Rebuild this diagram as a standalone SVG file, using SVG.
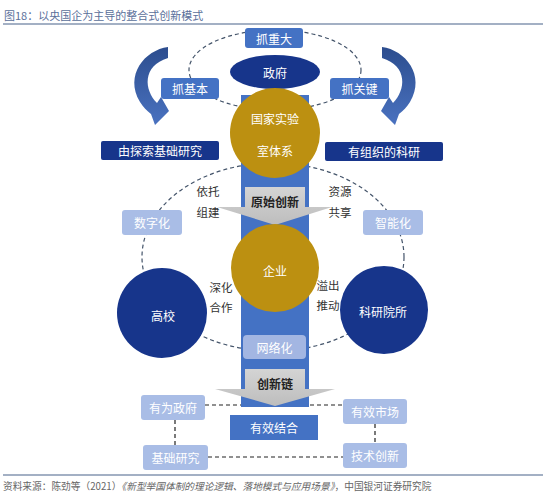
<svg xmlns="http://www.w3.org/2000/svg" width="546" height="500" viewBox="0 0 546 500">
<defs>
<linearGradient id="arrowGrad" x1="0" y1="0" x2="0" y2="1">
<stop offset="0" stop-color="#2c4d8e"/>
<stop offset="1" stop-color="#4a72c0"/>
</linearGradient>
<linearGradient id="grayGrad" x1="0" y1="0" x2="0" y2="1">
<stop offset="0" stop-color="#d4d4d4"/>
<stop offset="1" stop-color="#bdbdbd"/>
</linearGradient>
<style>
text{font-family:"Noto Sans CJK SC","Liberation Sans",sans-serif;text-anchor:middle;dominant-baseline:central}
.w{fill:#ffffff;font-size:12px}
.d{fill:#333333;font-size:11.5px}
.b{fill:#222222;font-size:12px;font-weight:bold}
.mid{fill:#4472c4}
.navy{fill:#17358b}
.gold{fill:#bc9011}
.light{fill:#a9bde6}
.dash{fill:none;stroke:#44546a;stroke-width:1.2;stroke-dasharray:4 3}
.dashk{fill:none;stroke:#222222;stroke-width:1.2;stroke-dasharray:4 3}
</style>
</defs>
<rect width="546" height="500" fill="#ffffff"/>
<text x="4" y="15" style="text-anchor:start;font-size:11px;fill:#5a6f9a">图18：以央国企为主导的整合式创新模式</text>
<line x1="3" y1="24" x2="543" y2="24" stroke="#8496b0" stroke-width="1.5"/>

<g id="connectors">
<ellipse class="dash" cx="275" cy="70" rx="86" ry="40"/>
<ellipse class="dash" cx="273" cy="257" rx="131" ry="94"/>
<line class="dashk" x1="205" y1="405" x2="343" y2="405"/>
<line class="dashk" x1="175" y1="420" x2="175" y2="445"/>
<line class="dashk" x1="208" y1="457" x2="343" y2="457"/>
<line class="dashk" x1="375" y1="424" x2="375" y2="443"/>
</g>

<g id="column"><rect class="mid" x="241" y="95" width="68" height="312"/></g>

<g id="arrow-left"><path fill="url(#arrowGrad)" d="M168,47 C145,50 124,75 140,102 C143,107 147,111 151,114 L155,125 L169,111 L161,97 L157,103 C144,90 142,66 168,58 Z"/></g>
<g id="arrow-right" transform="translate(550,0) scale(-1,1)"><path fill="url(#arrowGrad)" d="M168,47 C145,50 124,75 140,102 C143,107 147,111 151,114 L155,125 L169,111 L161,97 L157,103 C144,90 142,66 168,58 Z"/></g>

<g id="n-zhongda"><rect class="mid" x="245" y="28" width="58" height="20" rx="3"/><text class="w" x="274" y="38">抓重大</text></g>
<g id="n-zhengfu"><ellipse class="navy" cx="275" cy="72" rx="45" ry="17"/><text class="w" x="275" y="72">政府</text></g>
<g id="n-jiben"><rect class="mid" x="161" y="78" width="58" height="21" rx="3"/><text class="w" x="190" y="88.5">抓基本</text></g>
<g id="n-guanjian"><rect class="mid" x="330" y="78" width="59" height="21" rx="3"/><text class="w" x="359.5" y="88.5">抓关键</text></g>

<g id="n-tansuo"><rect class="navy" x="101" y="141" width="118" height="19" rx="2"/><text class="w" x="160" y="150.5">由探索基础研究</text></g>
<g id="n-zuzhi"><rect class="navy" x="325" y="142" width="118" height="19" rx="2"/><text class="w" x="384" y="151.5">有组织的科研</text></g>

<g id="n-shiyanshi"><circle class="gold" cx="275" cy="133" r="45"/><text class="w" x="275" y="118">国家实验</text><text class="w" x="275" y="150">室体系</text></g>

<g id="n-yuanshi"><path fill="url(#grayGrad)" d="M245,187 H305 V207 H332 L275,225 L217,207 H245 Z"/><text class="b" x="275" y="201">原始创新</text></g>

<text class="d" x="208" y="191">依托</text>
<text class="d" x="208" y="212">组建</text>
<text class="d" x="340" y="191">资源</text>
<text class="d" x="340" y="212">共享</text>

<g id="n-shuzi"><rect class="light" x="122" y="210" width="60" height="25" rx="3"/><text class="w" x="152" y="222.5">数字化</text></g>
<g id="n-zhineng"><rect class="light" x="363" y="210" width="60" height="25" rx="3"/><text class="w" x="393" y="222.5">智能化</text></g>

<g id="n-qiye"><circle class="gold" cx="275" cy="268" r="44"/><text class="w" x="275" y="270">企业</text></g>
<g id="n-gaoxiao"><circle class="navy" cx="162" cy="313" r="45"/><text class="w" x="163" y="315">高校</text></g>
<g id="n-keyan"><circle class="navy" cx="384" cy="310" r="44"/><text class="w" x="383" y="311">科研院所</text></g>

<text class="d" x="221" y="287">深化</text>
<text class="d" x="221" y="307">合作</text>
<text class="d" x="328" y="285">溢出</text>
<text class="d" x="328" y="305">推动</text>

<g id="n-wangluo"><rect x="243" y="335" width="63" height="24" rx="4" fill="#a3b6e2"/><text class="w" x="274.5" y="347">网络化</text></g>

<g id="n-chuangxinlian"><path fill="url(#grayGrad)" d="M245,369 H305 V389 H335 L275,406 L215,389 H245 Z"/><text class="b" x="275" y="383">创新链</text></g>

<g id="n-jiehe"><rect class="mid" x="230" y="415" width="88" height="25"/><text class="w" x="274" y="427.5">有效结合</text></g>
<g id="n-youwei"><rect class="light" x="141" y="395" width="64" height="25" rx="3"/><text class="w" x="173" y="407.5">有为政府</text></g>
<g id="n-shichang"><rect class="light" x="343" y="399" width="64" height="25" rx="3"/><text class="w" x="375" y="411.5">有效市场</text></g>
<g id="n-jichu"><rect class="light" x="143" y="445" width="65" height="25" rx="3"/><text class="w" x="175.5" y="457.5">基础研究</text></g>
<g id="n-jishu"><rect class="light" x="343" y="443" width="64" height="25" rx="3"/><text class="w" x="375" y="455.5">技术创新</text></g>

<line x1="3" y1="475" x2="543" y2="475" stroke="#8496b0" stroke-width="1.5"/>
<text x="3" y="486" style="text-anchor:start;font-size:9.7px;fill:#666666">资料来源：陈劲等（2021）<tspan font-style="italic">《新型举国体制的理论逻辑、落地模式与应用场景》</tspan>，中国银河证券研究院</text>
</svg>
